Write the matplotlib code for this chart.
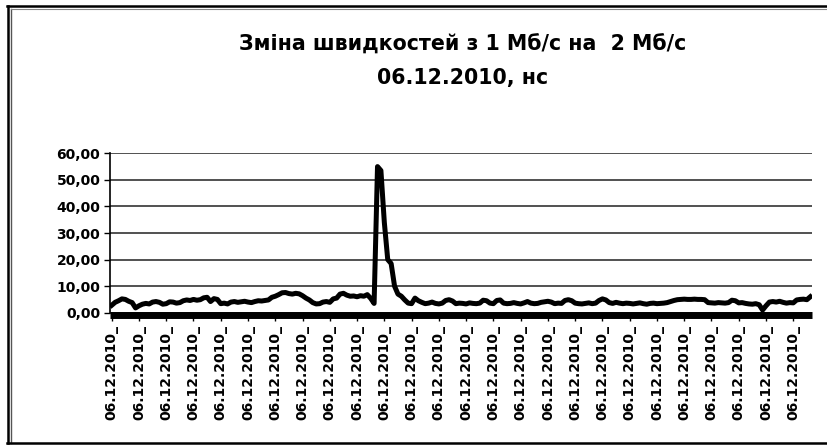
import matplotlib
matplotlib.use("Agg")
import matplotlib.pyplot as plt
from matplotlib.lines import Line2D

# ====== DATA ======
title_line1 = "Зміна швидкостей з 1 Мб/с на  2 Мб/с"
title_line2 = "06.12.2010, нс"

y_ticks = [0, 10, 20, 30, 40, 50, 60]
y_tick_labels = ["0,00", "10,00", "20,00", "30,00", "40,00", "50,00", "60,00"]

x_label_text = "06.12.2010_"
label_step = 8

# затримка, нс
zatrymka = [
    2.8, 3.9, 4.5, 5.2, 5.0, 4.3, 3.8, 1.8, 2.6, 3.2,
    3.5, 3.3, 4.0, 4.2, 3.9, 3.2, 3.4, 4.1, 4.0, 3.6,
    3.8, 4.5, 4.8, 4.6, 5.0, 4.7, 4.9, 5.6, 5.8, 4.2,
    5.3, 5.0, 3.4, 3.6, 3.3, 4.0, 4.2, 3.9, 4.1, 4.3,
    4.0, 3.8, 4.2, 4.5, 4.4, 4.6, 4.8, 5.8, 6.2, 6.8,
    7.5, 7.6, 7.2, 7.0, 7.3, 7.1, 6.4, 5.5, 4.8, 3.8,
    3.3, 3.4, 4.0, 4.2, 3.9, 5.2, 5.5, 7.0, 7.3, 6.6,
    6.2, 6.3, 6.0, 6.4, 6.2, 6.8, 5.4, 3.5, 55.0, 53.5,
    34.0, 20.0, 18.5, 10.0, 7.0, 6.2, 4.8, 3.6, 3.4, 5.5,
    4.5, 3.9, 3.4, 3.6, 4.0, 3.5, 3.3, 3.6, 4.6, 4.9,
    4.4, 3.4, 3.6, 3.5, 3.3, 3.7, 3.5, 3.4, 3.6, 4.7,
    4.5, 3.6, 3.4, 4.6, 4.8, 3.6, 3.4, 3.5, 3.8, 3.5,
    3.3, 3.7, 4.2, 3.6, 3.4, 3.5, 3.9, 4.1, 4.3, 4.0,
    3.4, 3.6, 3.5, 4.6, 4.9, 4.5, 3.6, 3.4, 3.3, 3.5,
    3.7, 3.4, 3.6, 4.6, 5.2, 4.8, 3.8, 3.5, 3.9, 3.6,
    3.4, 3.6, 3.5, 3.3, 3.5, 3.7, 3.4, 3.2, 3.5, 3.6,
    3.4, 3.5, 3.6, 3.8, 4.2, 4.6, 4.9, 5.0, 5.1, 5.0,
    5.0, 5.1, 5.0, 5.0, 4.9, 3.8, 3.7, 3.6, 3.8, 3.7,
    3.6, 3.8, 4.7, 4.5, 3.7, 3.8, 3.5, 3.3, 3.2, 3.4,
    3.0, 1.0, 2.6, 4.0, 4.2, 4.0, 4.3, 3.9, 3.6, 3.8,
    3.7, 4.8, 5.0, 5.1, 4.9, 6.0,
]

n = len(zatrymka)
x = list(range(n))
tick_pos = x[::label_step]

# ====== PLOT ======
plt.rcParams["font.family"] = ["DejaVu Sans"]
plt.rcParams["font.weight"] = "bold"

W, H = 827, 446
fig = plt.figure(figsize=(W / 100, H / 100), dpi=100)
ax = fig.add_axes([110 / W, 1 - 312.7 / H, 702 / W, (312.7 - 153.3) / H])

ax.plot(x, zatrymka, color="black", linewidth=3.6, solid_joinstyle="round", zorder=3)

ax.set_xlim(-0.5, n - 0.5)
ax.set_ylim(0, 60)
ax.set_yticks(y_ticks)
ax.set_yticklabels(y_tick_labels, fontsize=10, fontweight="bold")
ax.set_xticks(tick_pos)
ax.set_xticklabels([x_label_text] * len(tick_pos), fontsize=10, fontweight="bold")

ax.grid(axis="y", color="#333333", linewidth=1.2, zorder=1)
ax.set_axisbelow(True)
for s in ["top", "right"]:
    ax.spines[s].set_visible(False)
ax.spines["left"].set_linewidth(1.2)
ax.spines["bottom"].set_linewidth(5)
ax.spines["bottom"].set_position(("outward", 1.5))
ax.spines["bottom"].set_capstyle("butt")
ax.tick_params(axis="y", length=4, width=1, pad=3)
ax.tick_params(axis="x", length=4, width=1, pad=3, labelrotation=90)

fig.text(463 / W, 1 - 45 / H, title_line1, ha="center", va="center",
         fontsize=14.8, fontweight="bold")
fig.text(463 / W, 1 - 78 / H, title_line2, ha="center", va="center",
         fontsize=14.8, fontweight="bold")

# рамка
def px(xp, yp):
    return xp / W, 1 - yp / H

for (x0, y0), (x1, y1), lw, col in [
    ((7.5, 6), (7.5, 443), 1.8, "black"),
    ((11, 9), (11, 443), 1.0, "#555555"),
    ((7, 6), (827, 6), 1.8, "black"),
    ((11, 9), (827, 9), 0.8, "#888888"),
    ((7, 443), (827, 443), 1.8, "black"),
]:
    a, b = px(x0, y0)
    c, d = px(x1, y1)
    fig.add_artist(Line2D([a, c], [b, d], transform=fig.transFigure,
                          color=col, linewidth=lw))

fig.savefig("out.png", dpi=100)
